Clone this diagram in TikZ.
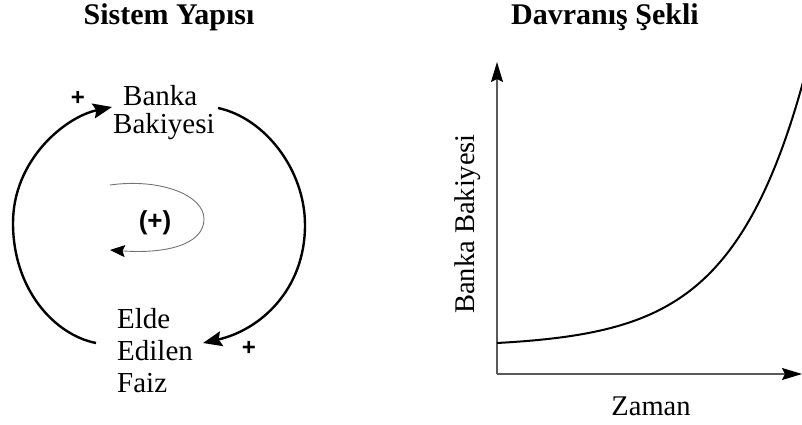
\documentclass[tikz,border=0pt]{standalone}
\usepackage{fontspec}
\setmainfont{Liberation Serif}
\newfontfamily\plusfont{Liberation Sans}
\usetikzlibrary{arrows.meta}
\begin{document}
\begin{tikzpicture}[x=1pt,y=-1pt,
  title/.style={font=\fontsize{30}{34}\selectfont\bfseries, inner sep=0, anchor=base},
  var/.style={inner sep=0, align=left, anchor=north west},
  sign/.style={font=\plusfont\bfseries\fontsize{24}{26}\selectfont, inner sep=0},
  link/.style={line width=2.4pt, -{Stealth[length=19pt,width=15pt,inset=3pt]}},
  inner/.style={line width=0.9pt, draw=black!55, -{Stealth[length=15pt,width=12pt,inset=2.5pt,color=black]}},
  axis/.style={line width=1.5pt, draw=black!65, -{Stealth[length=20pt,width=12pt,inset=3pt,color=black]}},
  curve/.style={line width=2pt, black},
  lab/.style={font=\fontsize{28.5}{30}\selectfont, inner sep=0}
]
\useasboundingbox (0,0) rectangle (802,425);

% titles
\node[title] (t1) at (169,25) {Sistem Yapısı};
\node[title] (t2) at (605,25) {Davranış Şekli};

% variables
\node[var, font=\fontsize{29}{28}\selectfont] (bank) at (113,85) {\hspace*{10pt}Banka\\Bakiyesi};
\node[var, font=\fontsize{29}{32}\selectfont] (faiz) at (117,308) {Elde\\Edilen\\Faiz};

% connector end points
\coordinate (fOut) at (96,343);
\coordinate (bIn) at (112,107);
\coordinate (bOut) at (218,108);
\coordinate (fIn) at (203,343);
\coordinate (lS) at (110,185);
\coordinate (lE) at (110,250);

\draw[link] (fOut) .. controls (55,335) and (13,290) .. (13,223)
                  .. controls (13,160) and (65,117) .. (bIn);
\draw[link] (bOut) .. controls (265,118) and (305,170) .. (305,225)
                  .. controls (305,290) and (260,330) .. (fIn);
\draw[inner] (lS) .. controls (160,178) and (204,195) .. (204,219)
                .. controls (204,245) and (165,254) .. (lE);

\node[sign] (p1) at (78,98) {+};
\node[sign] (p2) at (249,348) {+};
\node[sign, font=\plusfont\bfseries\fontsize{26}{28}\selectfont] (loop) at (155,223) {(+)};

% graph
\coordinate (O) at (497,374);
\coordinate (ytip) at (497,62);
\coordinate (xtip) at (802,374);
\draw[axis] (O) -- (ytip);
\draw[axis] (O) -- (xtip);
\begin{scope}
\clip (0,0) rectangle (802,425);
\draw[curve] plot[domain=497:806, samples=120, smooth] (\x, {343-4*(exp(0.0137*(\x-497))-1)});
\end{scope}

\node[lab, rotate=90] (ylab) at (468,224) {Banka Bakiyesi};
\node[lab, anchor=base] (xlab) at (651,415) {Zaman};
\end{tikzpicture}
\end{document}
